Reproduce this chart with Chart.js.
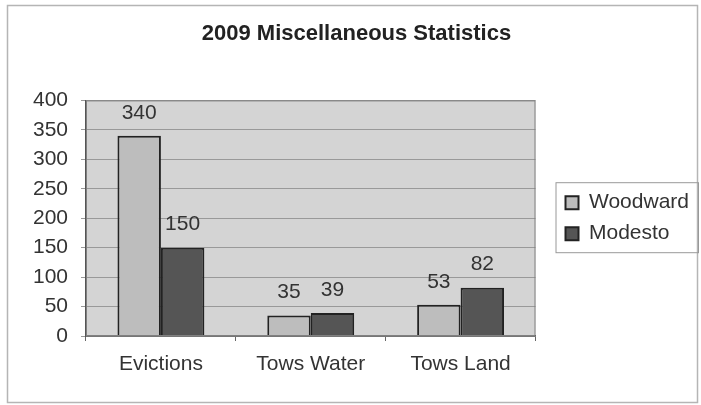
<!DOCTYPE html>
<html>
<head>
<meta charset="utf-8">
<script src="https://cdn.jsdelivr.net/npm/chart.js@4/dist/chart.umd.min.js"></script>
<style>
  html, body { margin: 0; padding: 0; background: #fff; }
  #wrap { width: 701px; height: 405px; }
</style>
</head>
<body>
<div id="wrap"><canvas id="chart" width="701" height="405"></canvas></div>
<script>
const categories = ['Evictions', 'Tows Water', 'Tows Land'];
const woodward = [340, 35, 53];
const modesto = [150, 39, 82];
const yTicks = [0, 50, 100, 150, 200, 250, 300, 350, 400];

Chart.defaults.font.family = '"Liberation Sans", Arial, sans-serif';
Chart.defaults.color = '#333';

// frame, plot background and legend box
const frame = {
  id: 'frame',
  beforeDraw(chart) {
    const { ctx, chartArea: a } = chart;
    ctx.save();
    ctx.fillStyle = '#fff';
    ctx.fillRect(0, 0, chart.width, chart.height);
    ctx.strokeStyle = '#b5b5b5';
    ctx.lineWidth = 1.5;
    ctx.strokeRect(7.5, 5.5, 690, 397);
    ctx.fillStyle = '#d4d4d4';
    ctx.fillRect(a.left, a.top, a.right - a.left, a.bottom - a.top);
    ctx.restore();
  },
  afterDraw(chart) {
    const { ctx, chartArea: a, legend } = chart;
    ctx.save();
    ctx.strokeStyle = '#808080';
    ctx.lineWidth = 1;
    ctx.strokeRect(a.left + 0.5, a.top + 0.5, a.right - a.left - 1, a.bottom - a.top - 1);
    const boxes = legend.legendHitBoxes;
    if (boxes && boxes.length) {
      const top = boxes[0].top - 10;
      const last = boxes[boxes.length - 1];
      const bottom = last.top + last.height + 8;
      ctx.strokeStyle = '#999';
      ctx.strokeRect(legend.left + 0.5, top + 0.5, legend.right - legend.left - 1, bottom - top);
    }
    ctx.restore();
  }
};

// value labels above the bars
const valueLabels = {
  id: 'valueLabels',
  afterDatasetsDraw(chart) {
    const { ctx } = chart;
    ctx.save();
    ctx.font = '21px "Liberation Sans", Arial, sans-serif';
    ctx.fillStyle = '#333';
    ctx.textAlign = 'center';
    ctx.textBaseline = 'middle';
    chart.data.datasets.forEach((ds, i) => {
      chart.getDatasetMeta(i).data.forEach((bar, j) => {
        ctx.fillText(String(ds.data[j]), bar.x, bar.y - 23);
      });
    });
    ctx.restore();
  }
};

new Chart(document.getElementById('chart'), {
  type: 'bar',
  data: {
    labels: categories,
    datasets: [
      {
        label: 'Woodward',
        data: woodward,
        backgroundColor: '#bdbdbd',
        borderColor: '#222',
        borderWidth: 2,
        categoryPercentage: 0.58,
        barPercentage: 1.0,
      },
      {
        label: 'Modesto',
        data: modesto,
        backgroundColor: '#555555',
        borderColor: '#222',
        borderWidth: 2,
        categoryPercentage: 0.58,
        barPercentage: 1.0,
      },
    ],
  },
  options: {
    responsive: false,
    animation: false,
    layout: { padding: { left: 14, right: 2, top: 0, bottom: 0 } },
    plugins: {
      title: {
        display: true,
        text: '2009 Miscellaneous Statistics',
        color: '#222',
        font: { size: 22, weight: 'bold' },
        padding: { top: 21, bottom: 53 },
      },
      legend: {
        position: 'right',
        fullSize: false,
        labels: {
          boxWidth: 13,
          boxHeight: 13,
          padding: 10,
          color: '#333',
          font: { size: 21 },
        },
      },
      tooltip: { enabled: false },
    },
    scales: {
      x: {
        grid: { display: true, drawOnChartArea: false, offset: true, tickLength: 5, color: '#666' },
        border: { color: '#555', width: 1.5 },
        ticks: { padding: 11, font: { size: 21 }, color: '#333' },
        afterFit: (s) => { s.height = 69; },
      },
      y: {
        min: 0,
        max: 400,
        afterBuildTicks: (s) => { s.ticks = yTicks.map(v => ({ value: v })); },
        grid: { color: '#999', tickLength: 5 },
        border: { color: '#555', width: 1.5 },
        ticks: { padding: 13, font: { size: 21 }, color: '#333' },
        afterFit: (s) => { s.width = 72; },
      },
      // empty spacer between the plot and the legend
      gap: {
        position: 'right',
        display: false,
        afterFit: (s) => { s.width = 20; },
      },
    },
  },
  plugins: [frame, valueLabels],
});
</script>
</body>
</html>
